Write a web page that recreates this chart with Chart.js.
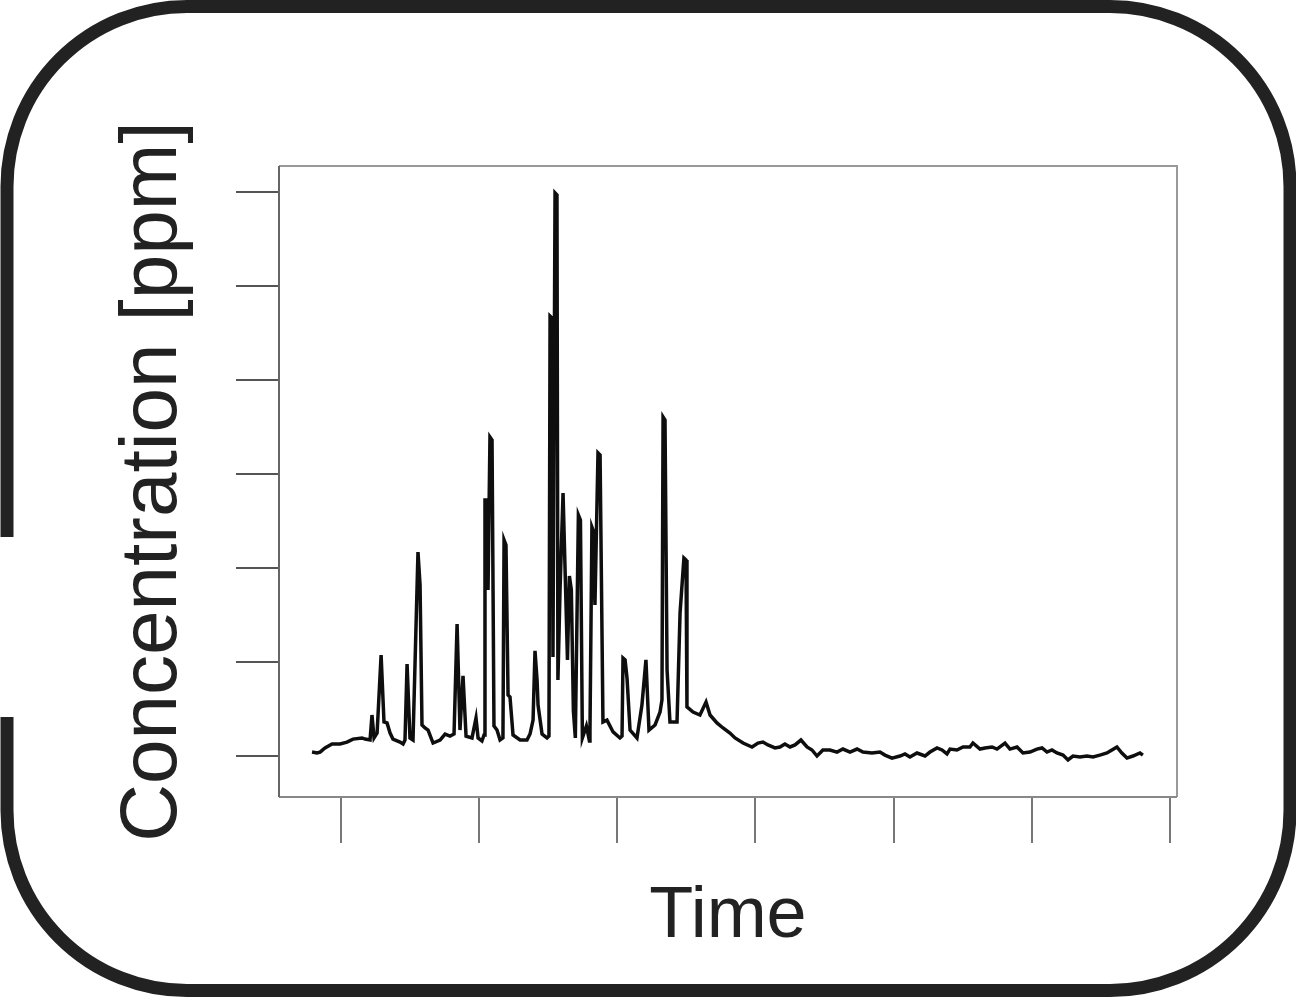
<!DOCTYPE html>
<html>
<head>
<meta charset="utf-8">
<title>Concentration over time</title>
<style>
  body { margin: 0; background: #fff; }
  #chart { display: block; }
</style>
</head>
<body>
<canvas id="chart" width="1296" height="998"></canvas>
<script src="https://cdn.jsdelivr.net/npm/chart.js"></script>
<script>
// time in samples, concentration in ppm (baseline corrected)
const time = [
  79.0, 82.6, 84.8, 88.4, 93.5, 99.3, 104.3, 108.7, 115.2, 117.4,
  121.0, 122.4, 123.9, 126.1, 129.0, 131.1, 133.3, 135.5, 137.6, 142.7,
  144.9, 146.3, 147.8, 149.9, 152.1, 155.7, 157.2, 158.6, 160.8, 163.0,
  166.6, 171.7, 175.3, 178.9, 181.8, 184.0, 186.1, 188.3, 190.5, 194.8,
  197.7, 199.2, 202.0, 203.5, 204.2, 205.7, 206.4, 207.8, 209.3, 210.7,
  212.9, 215.1, 217.2, 218.0, 219.4, 220.9, 222.3, 224.5, 229.6, 234.6,
  236.8, 239.0, 240.4, 241.9, 242.6, 245.5, 249.1, 250.5, 251.3, 252.7,
  253.4, 254.9, 256.3, 257.0, 258.5, 260.7, 263.9, 265.3, 266.7, 268.2,
  269.6, 271.8, 273.3, 274.7, 277.6, 279.8, 280.2, 281.6, 282.4, 283.8,
  286.0, 287.5, 289.6, 292.5, 296.9, 301.9, 303.4, 304.1, 305.6, 307.0,
  309.2, 314.2, 317.8, 320.7, 322.9, 327.3, 330.9, 332.3, 333.1, 334.5,
  336.0, 338.1, 343.2, 345.4, 348.2, 349.7, 350.4, 354.8, 359.8, 364.2,
  367.1, 372.1, 376.5, 381.5, 385.2, 391.0, 397.5, 401.8, 405.4, 409.0,
  414.1, 417.7, 421.3, 425.0, 428.6, 432.9, 437.3, 440.9, 444.5, 448.8,
  453.9, 459.0, 463.3, 468.4, 473.5, 477.8, 484.3, 490.1, 493.7, 498.8,
  504.6, 508.2, 511.8, 516.9, 522.7, 526.3, 531.4, 535.0, 538.6, 540.8,
  545.8, 550.2, 555.2, 557.4, 562.5, 566.1, 571.2, 574.8, 580.6, 584.2,
  589.3, 593.6, 598.7, 603.7, 607.4, 611.0, 614.6, 618.2, 622.6, 626.2,
  629.8, 634.9, 639.9, 644.3, 649.3, 654.4, 658.0, 661.6, 665.2, 668.9,
  673.2, 678.3, 680.4
];
const conc = [
  2.1, 1.6, 2.1, 4.3, 6.4, 6.4, 7.4, 9.0, 9.6, 9.0,
  8.5, 21.8, 9.6, 12.2, 53.7, 18.1, 17.6, 12.2, 9.0, 7.4,
  6.4, 8.5, 48.9, 9.6, 8.5, 108.5, 91.0, 16.5, 14.9, 13.8,
  6.9, 8.5, 11.7, 10.6, 11.7, 70.2, 13.8, 42.6, 10.6, 9.6,
  20.2, 9.6, 8.0, 11.2, 136.2, 136.2, 88.3, 169.7, 168.1, 16.0,
  13.8, 8.5, 9.6, 114.9, 112.2, 32.4, 31.4, 11.2, 8.5, 8.5,
  11.7, 19.1, 55.9, 40.4, 27.1, 11.7, 9.6, 10.6, 234.0, 233.0,
  52.7, 299.5, 298.4, 40.4, 87.8, 139.9, 51.1, 95.7, 88.3, 23.9,
  9.6, 128.2, 125.5, 9.6, 16.0, 8.0, 13.8, 121.8, 120.2, 80.3,
  161.2, 160.1, 18.1, 19.1, 12.8, 9.6, 10.6, 52.1, 51.1, 41.5,
  13.8, 9.6, 27.1, 51.1, 13.8, 16.5, 23.4, 29.8, 180.3, 178.7,
  45.7, 18.1, 18.1, 76.1, 105.3, 104.3, 26.1, 23.4, 21.8, 28.7,
  21.8, 17.6, 14.9, 12.2, 9.6, 6.9, 4.8, 6.9, 7.4, 5.9,
  4.3, 4.8, 6.4, 4.8, 5.9, 8.5, 4.8, 3.2, 0.0, 3.2,
  3.2, 2.1, 3.7, 2.1, 3.7, 2.1, 1.6, 2.1, 0.5, -1.1,
  0.0, 1.1, -0.5, 1.6, 0.0, 2.1, 4.3, 3.2, 1.1, 3.7,
  3.2, 4.8, 4.8, 6.9, 3.7, 4.3, 4.8, 3.7, 6.9, 3.7,
  4.8, 1.6, 2.1, 3.7, 4.3, 2.1, 3.2, 1.6, 0.5, -2.1,
  0.0, -0.5, 0.0, -0.5, 0.5, 1.6, 3.2, 4.8, 1.6, -1.1,
  0.0, 1.6, 0.5
];
const timeTicks = [100, 200, 300, 400, 500, 600, 700];
const concTicks = [0, 50, 100, 150, 200, 250, 300];

const FONT = "'Liberation Sans', Arial, Helvetica, sans-serif";

// rounded frame around the figure, open on the left edge
const framePlugin = {
  id: 'frame',
  beforeDraw(chart) {
    const ctx = chart.ctx;
    const L = 7, T = 6.5, R = 1290, B = 990.5, rad = 180;
    ctx.save();
    ctx.fillStyle = '#fff';
    ctx.fillRect(0, 0, chart.width, chart.height);
    ctx.strokeStyle = '#222';
    ctx.lineWidth = 13;
    ctx.beginPath();
    ctx.moveTo(L, 537);
    ctx.lineTo(L, T + rad);
    ctx.arcTo(L, T, L + rad, T, rad);
    ctx.lineTo(R - rad, T);
    ctx.arcTo(R, T, R, T + rad, rad);
    ctx.lineTo(R, B - rad);
    ctx.arcTo(R, B, R - rad, B, rad);
    ctx.lineTo(L + rad, B);
    ctx.arcTo(L, B, L, B - rad, rad);
    ctx.lineTo(L, 717);
    ctx.stroke();
    ctx.restore();
  }
};

// box around the plotting region
const boxPlugin = {
  id: 'box',
  afterDraw(chart) {
    const {left, right, top, bottom} = chart.chartArea;
    const ctx = chart.ctx;
    ctx.save();
    ctx.lineWidth = 2;
    ctx.strokeStyle = '#999';
    ctx.beginPath();
    ctx.moveTo(left, top);
    ctx.lineTo(right, top);
    ctx.lineTo(right, bottom);
    ctx.stroke();
    ctx.strokeStyle = '#888';
    ctx.beginPath();
    ctx.moveTo(left, bottom);
    ctx.lineTo(right, bottom);
    ctx.stroke();
    ctx.strokeStyle = '#666';
    ctx.beginPath();
    ctx.moveTo(left, top);
    ctx.lineTo(left, bottom);
    ctx.stroke();
    ctx.restore();
  }
};

new Chart(document.getElementById('chart'), {
  type: 'line',
  data: {
    datasets: [{
      data: time.map((t, i) => ({x: t, y: conc[i]})),
      borderColor: '#0e0e0e',
      borderWidth: 3.5,
      pointRadius: 0,
      tension: 0,
      fill: false
    }]
  },
  options: {
    responsive: false,
    animation: false,
    devicePixelRatio: 1,
    layout: { padding: { top: 166, right: 119, left: 0, bottom: 0 } },
    plugins: { legend: { display: false }, tooltip: { enabled: false } },
    scales: {
      x: {
        type: 'linear',
        min: 55.1,
        max: 705.1,
        afterBuildTicks: s => { s.ticks = timeTicks.map(v => ({value: v})); },
        afterFit: s => { s.height = 201; },
        ticks: { display: false },
        grid: { drawOnChartArea: false, drawTicks: true, tickLength: 46, color: '#777', lineWidth: 2 },
        border: { display: false },
        title: {
          display: true, text: 'Time', color: '#222',
          font: { family: FONT, size: 72 },
          padding: { top: 0, bottom: 38 }
        }
      },
      y: {
        type: 'linear',
        min: -21.8,
        max: 313.8,
        afterBuildTicks: s => { s.ticks = concTicks.map(v => ({value: v})); },
        afterFit: s => { s.width = 279; },
        ticks: { display: false },
        grid: { drawOnChartArea: false, drawTicks: true, tickLength: 43, color: '#555', lineWidth: 2 },
        border: { display: false },
        title: {
          display: true, text: 'Concentration [ppm]', color: '#222',
          font: { family: FONT, size: 80 },
          padding: { top: 106, bottom: 0 }
        }
      }
    }
  },
  plugins: [framePlugin, boxPlugin]
});
</script>
</body>
</html>
